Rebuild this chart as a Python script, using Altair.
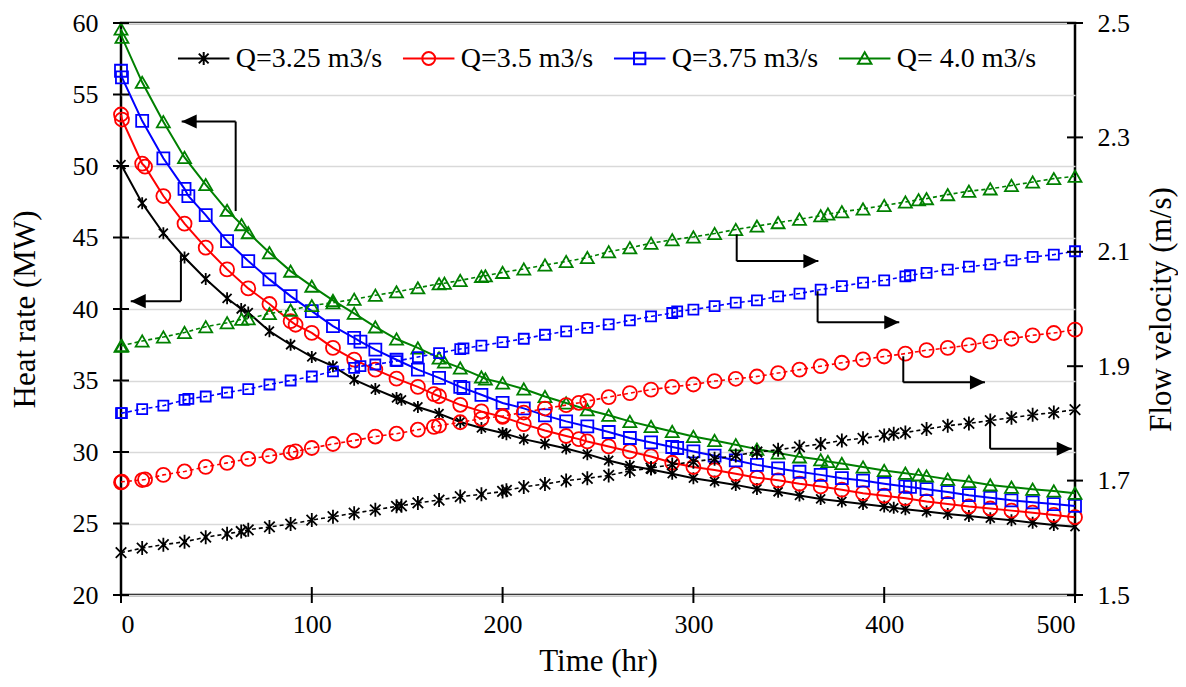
import altair as alt
import pandas as pd

Q_LABELS = ["Q=3.25 m3/s", "Q=3.5 m3/s", "Q=3.75 m3/s", "Q= 4.0 m3/s"]
COLORS = ["#000000", "#ff0000", "#0000ff", "#008000"]

# ---- Q = 3.25 m3/s ----
T_325 = [0, 11.1, 22.2, 33.3, 44.4, 55.6, 63.0, 66.7, 77.8, 88.9,
         100, 111.1, 122.2, 133.3, 144.4, 147.0, 155.6, 166.7, 177.8, 188.9,
         200, 202.0, 211.1, 222.2, 233.3, 244.4, 255.6, 266.7, 277.8, 288.9,
         300, 311.1, 322.2, 333.3, 344.4, 355.6, 366.7, 377.8, 388.9, 400,
         405.0, 411.1, 422.2, 433.3, 444.4, 455.6, 466.7, 477.8, 488.9, 500]
HR_325 = [50.1, 47.4, 45.3, 43.6, 42.1, 40.75, 40.0, 39.75, 38.45, 37.5,
          36.65, 36.0, 35.06, 34.4, 33.78, 33.65, 33.15, 32.68, 32.1, 31.68,
          31.33, 31.25, 30.9, 30.58, 30.25, 29.85, 29.41, 29.04, 28.78, 28.48,
          28.17, 27.94, 27.7, 27.42, 27.22, 26.96, 26.72, 26.54, 26.37, 26.19,
          26.1, 26.0, 25.84, 25.67, 25.53, 25.37, 25.23, 25.06, 24.9, 24.78]
V_325 = [1.574, 1.582, 1.588, 1.593, 1.601, 1.607, 1.611, 1.614, 1.619, 1.624,
         1.631, 1.637, 1.643, 1.649, 1.655, 1.656, 1.661, 1.666, 1.672, 1.676,
         1.681, 1.683, 1.689, 1.694, 1.700, 1.704, 1.709, 1.717, 1.722, 1.728,
         1.733, 1.738, 1.744, 1.750, 1.754, 1.759, 1.764, 1.770, 1.774, 1.779,
         1.782, 1.784, 1.790, 1.796, 1.800, 1.805, 1.810, 1.815, 1.819, 1.824]

# ---- Q = 3.5 m3/s ----
T_35 = [0, 0.5, 11.1, 12.6, 22.2, 33.3, 44.4, 55.6, 66.7, 77.8,
        88.9, 91.5, 100, 111.1, 122.2, 133.3, 144.4, 155.6, 164.0, 166.7,
        177.8, 188.9, 200, 211.1, 222.2, 233.3, 240.0, 244.4, 255.6, 266.7,
        277.8, 288.9, 300, 311.1, 322.2, 333.3, 344.4, 355.6, 366.7, 377.8,
        388.9, 400, 411.1, 422.2, 433.3, 444.4, 455.6, 466.7, 477.8, 488.9,
        500]
HR_35 = [53.6, 53.25, 50.17, 49.95, 47.9, 45.97, 44.29, 42.77, 41.44, 40.35,
         39.15, 38.9, 38.33, 37.28, 36.46, 35.76, 35.13, 34.55, 34.05, 33.9,
         33.3, 32.84, 32.45, 31.95, 31.5, 31.12, 30.9, 30.74, 30.39, 30.04,
         29.69, 29.25, 28.95, 28.74, 28.48, 28.2, 28.02, 27.78, 27.59, 27.36,
         27.12, 26.94, 26.77, 26.54, 26.37, 26.19, 26.05, 25.9, 25.76, 25.6,
         25.44]
V_35 = [1.697, 1.698, 1.701, 1.702, 1.710, 1.716, 1.724, 1.731, 1.738, 1.743,
        1.749, 1.751, 1.757, 1.764, 1.770, 1.777, 1.782, 1.789, 1.794, 1.796,
        1.802, 1.808, 1.813, 1.819, 1.826, 1.832, 1.836, 1.839, 1.846, 1.853,
        1.859, 1.864, 1.868, 1.874, 1.878, 1.882, 1.888, 1.894, 1.900, 1.906,
        1.912, 1.917, 1.922, 1.928, 1.932, 1.937, 1.943, 1.948, 1.954, 1.958,
        1.964]

# ---- Q = 3.75 m3/s ----
T_375 = [0, 0.5, 11.1, 22.2, 33.3, 35.3, 44.4, 55.6, 66.7, 77.8,
         88.9, 100, 111.1, 122.2, 125.5, 133.3, 144.4, 155.6, 166.7, 177.8,
         179.5, 188.9, 200, 211.1, 222.2, 233.3, 244.4, 255.6, 266.7, 277.8,
         288.9, 291.5, 300, 311.1, 322.2, 333.3, 344.4, 355.6, 366.7, 377.8,
         388.9, 400, 411.1, 413.5, 422.2, 433.3, 444.4, 455.6, 466.7, 477.8,
         488.9, 500]
HR_375 = [56.66, 56.2, 53.16, 50.54, 48.4, 47.9, 46.57, 44.75, 43.35, 42.07,
          40.9, 39.85, 38.8, 37.98, 37.72, 37.16, 36.45, 35.76, 35.18, 34.55,
          34.47, 34.0, 33.43, 33.05, 32.56, 32.14, 31.79, 31.4, 30.98, 30.67,
          30.35, 30.28, 30.04, 29.74, 29.41, 29.1, 28.85, 28.62, 28.4, 28.17,
          28.0, 27.78, 27.59, 27.56, 27.4, 27.2, 26.98, 26.8, 26.62, 26.48,
          26.36, 26.23]
V_375 = [1.818, 1.818, 1.825, 1.831, 1.841, 1.843, 1.847, 1.854, 1.860, 1.868,
         1.875, 1.882, 1.891, 1.897, 1.900, 1.903, 1.909, 1.916, 1.923, 1.930,
         1.931, 1.936, 1.942, 1.948, 1.955, 1.961, 1.967, 1.973, 1.980, 1.987,
         1.993, 1.996, 1.999, 2.005, 2.011, 2.015, 2.022, 2.027, 2.034, 2.040,
         2.046, 2.050, 2.057, 2.059, 2.063, 2.069, 2.074, 2.078, 2.085, 2.091,
         2.095, 2.101]

# ---- Q = 4.0 m3/s ----
T_40 = [0, 0.5, 11.1, 22.2, 33.3, 44.4, 55.6, 63.2, 66.7, 77.8,
        88.9, 100, 111.1, 122.2, 133.3, 144.4, 155.6, 166.7, 169.5, 177.8,
        188.9, 191.0, 200, 211.1, 222.2, 233.3, 244.4, 255.6, 266.7, 277.8,
        288.9, 300, 311.1, 322.2, 333.3, 344.4, 355.6, 366.7, 370.5, 377.8,
        388.9, 400, 411.1, 418.0, 422.2, 433.3, 444.4, 455.6, 466.7, 477.8,
        488.9, 500]
HR_40 = [59.58, 59.0, 55.85, 53.1, 50.6, 48.7, 46.9, 45.9, 45.34, 43.94,
         42.65, 41.6, 40.6, 39.7, 38.75, 37.9, 37.28, 36.58, 36.3, 35.88,
         35.25, 35.11, 34.83, 34.41, 33.88, 33.43, 32.96, 32.57, 32.14, 31.79,
         31.44, 31.09, 30.81, 30.51, 30.2, 29.93, 29.66, 29.46, 29.34, 29.2,
         28.95, 28.71, 28.52, 28.4, 28.33, 28.1, 27.94, 27.7, 27.54, 27.4,
         27.28, 27.12]
V_40 = [1.935, 1.936, 1.944, 1.951, 1.959, 1.969, 1.976, 1.982, 1.983, 1.992,
        1.998, 2.006, 2.011, 2.017, 2.024, 2.030, 2.037, 2.044, 2.045, 2.050,
        2.057, 2.058, 2.064, 2.070, 2.077, 2.083, 2.090, 2.100, 2.107, 2.115,
        2.121, 2.126, 2.132, 2.139, 2.145, 2.151, 2.157, 2.163, 2.166, 2.170,
        2.175, 2.181, 2.187, 2.191, 2.193, 2.200, 2.206, 2.210, 2.216, 2.222,
        2.228, 2.232]

X_TICKS = [0, 100, 200, 300, 400, 500]
HR_TICKS = [20, 25, 30, 35, 40, 45, 50, 55, 60]
V_TICKS = [1.5, 1.7, 1.9, 2.1, 2.3, 2.5]

# arrow annotations (data units): elbow time, start value, elbow value, tip time
ARR_L_T = [60.1, 31.4]
ARR_L_FROM = [46.85, 43.77]
ARR_L_TO = [53.11, 40.55]
ARR_L_TIP = [31.8, 5.1]
ARR_R_T = [322.7, 365.1, 410.0, 455.5]
ARR_R_FROM = [2.1305, 2.0312, 1.9173, 1.8035]
ARR_R_TO = [2.0837, 1.9769, 1.8718, 1.7557]
ARR_R_TIP = [365.5, 407.9, 452.8, 498.3]

# ---------------------------------------------------------------
FONT = "Liberation Serif, Times New Roman, Times, serif"
ASTER = "M0,-1L0,1M-0.75,-0.75L0.75,0.75M-0.75,0.75L0.75,-0.75"
HEAT_SHAPES = [ASTER, "circle", "square", "triangle-up"]
HEAT_SIZES = [144, 196, 144, 169]
VEL_SHAPES = [ASTER, "circle", "square", "triangle-up"]
VEL_SIZES = [196, 196, 100, 169]
LEG_SHAPES = [
    "M-1,0L1,0M0,-0.25L0,0.25M-0.19,-0.19L0.19,0.19M-0.19,0.19L0.19,-0.19",
    "M-1,0L1,0M0.25,0A0.25,0.25,0,1,1,-0.25,0A0.25,0.25,0,1,1,0.25,0",
    "M-1,0L1,0M-0.22,-0.22L0.22,-0.22L0.22,0.22L-0.22,0.22Z",
    "M-1,0L1,0M0,-0.24L0.26,0.2L-0.26,0.2Z",
]
HEAD_L = "M0,0L1,-0.47L1,0.47Z"
HEAD_R = "M0,0L-1,-0.47L-1,0.47Z"

frames = []
for lab, T, Hh, V in zip(Q_LABELS, [T_325, T_35, T_375, T_40],
                         [HR_325, HR_35, HR_375, HR_40], [V_325, V_35, V_375, V_40]):
    frames.append(pd.DataFrame({"Q": lab, "t": T, "heat": Hh, "vel": V}))
df = pd.concat(frames, ignore_index=True)

W, H = 954, 572
xs = alt.Scale(domain=[0, 500], nice=False, zero=False)
ls = alt.Scale(domain=[20, 60], nice=False, zero=False)
rs = alt.Scale(domain=[1.5, 2.5], nice=False, zero=False)

x_axis = alt.Axis(values=X_TICKS, title="Time (hr)", grid=False, ticks=False, tickSize=0,
                  domain=False, labelPadding=16, titlePadding=9,
                  labelFontSize=26, titleFontSize=31)
l_axis = alt.Axis(values=HR_TICKS, title="Heat rate (MW)", orient="left", grid=True,
                  gridColor="#d9d9d9", gridWidth=1.5, ticks=False, tickSize=0,
                  domain=False, labelPadding=23, titlePadding=31,
                  labelFontSize=26, titleFontSize=31)
r_axis = alt.Axis(values=V_TICKS, format=".1f", title="Flow velocity (m/s)",
                  orient="right", grid=False, ticks=False, tickSize=0, domain=False,
                  labelPadding=22, titlePadding=17, titleAngle=270,
                  titleBaseline="top", labelFontSize=26, titleFontSize=31)


def XF(f):
    return alt.X(f + ":Q", scale=xs, axis=x_axis)


def YLF(f):
    return alt.Y(f + ":Q", scale=ls, axis=l_axis)


def YRF(f):
    return alt.Y(f + ":Q", scale=rs, axis=r_axis)


left_layers = []
right_layers = []
for i, lab in enumerate(Q_LABELS):
    base = alt.Chart(df).transform_filter(alt.datum.Q == lab)
    left_layers.append(base.mark_line(color=COLORS[i], strokeWidth=2).encode(
        x=XF("t"), y=YLF("heat")))
    left_layers.append(base.mark_point(shape=HEAT_SHAPES[i], size=HEAT_SIZES[i], color=COLORS[i],
                                       filled=False, strokeWidth=1.8, opacity=1).encode(
        x=XF("t"), y=YLF("heat")))
    right_layers.append(base.mark_line(color=COLORS[i], strokeWidth=1.6, strokeDash=[4, 3]).encode(
        x=XF("t"), y=YRF("vel")))
    right_layers.append(base.mark_point(shape=VEL_SHAPES[i], size=VEL_SIZES[i], color=COLORS[i],
                                        filled=False, strokeWidth=1.8, opacity=1).encode(
        x=XF("t"), y=YRF("vel")))

# legend (no marks drawn, only the legend)
leg = alt.Legend(orient="none", legendX=55.7, legendY=8.5, direction="horizontal", columns=4,
                 columnPadding=16, title=None, labelFont=FONT, labelFontSize=28,
                 labelColor="black", symbolSize=2652, symbolStrokeWidth=2, labelOffset=5,
                 padding=0, symbolOpacity=1)
legend_layer = alt.Chart(df).transform_filter("datum.t < 0").mark_point(
    filled=False, strokeWidth=2, opacity=1).encode(
    x=XF("t"), y=YLF("heat"),
    color=alt.Color("Q:N", scale=alt.Scale(domain=Q_LABELS, range=COLORS), legend=leg),
    shape=alt.Shape("Q:N", scale=alt.Scale(domain=Q_LABELS, range=LEG_SHAPES), legend=leg),
)
left_layers.append(legend_layer)

# cross tick marks
left_layers.append(alt.Chart(pd.DataFrame({"heat": HR_TICKS})).mark_rule(
    color="black", strokeWidth=2).encode(y=YLF("heat"), x=alt.value(-8), x2=alt.value(8)))
left_layers.append(alt.Chart(pd.DataFrame({"t": X_TICKS})).mark_rule(
    color="black", strokeWidth=2).encode(x=XF("t"), y=alt.value(H - 8), y2=alt.value(H + 8)))
right_layers.append(alt.Chart(pd.DataFrame({"vel": V_TICKS})).mark_rule(
    color="black", strokeWidth=2).encode(y=YRF("vel"), x=alt.value(W - 8), x2=alt.value(W + 8)))

# arrows
al = pd.DataFrame({"t": ARR_L_T, "heat": ARR_L_FROM, "heat2": ARR_L_TO, "tip": ARR_L_TIP})
left_layers.append(alt.Chart(al).mark_rule(color="black", strokeWidth=2).encode(
    x=XF("t"), y=YLF("heat"), y2="heat2:Q"))
left_layers.append(alt.Chart(al).mark_rule(color="black", strokeWidth=2).encode(
    x=XF("t"), x2="tip:Q", y=YLF("heat2")))
left_layers.append(alt.Chart(al).mark_point(shape=HEAD_L, size=900, filled=True, color="black",
                                            opacity=1, strokeWidth=0).encode(
    x=XF("tip"), y=YLF("heat2")))

ar = pd.DataFrame({"t": ARR_R_T, "vel": ARR_R_FROM, "vel2": ARR_R_TO, "tip": ARR_R_TIP})
right_layers.append(alt.Chart(ar).mark_rule(color="black", strokeWidth=2).encode(
    x=XF("t"), y=YRF("vel"), y2="vel2:Q"))
right_layers.append(alt.Chart(ar).mark_rule(color="black", strokeWidth=2).encode(
    x=XF("t"), x2="tip:Q", y=YRF("vel2")))
right_layers.append(alt.Chart(ar).mark_point(shape=HEAD_R, size=900, filled=True, color="black",
                                             opacity=1, strokeWidth=0).encode(
    x=XF("tip"), y=YRF("vel2")))

left = alt.layer(*left_layers)
right = alt.layer(*right_layers)

chart = alt.layer(left, right).resolve_scale(y="independent").properties(
    width=W, height=H,
    autosize=alt.AutoSizeParams(type="none"),
    padding={"left": 113, "top": 15, "right": 103, "bottom": 84},
    background="white",
).configure_view(stroke="black", strokeWidth=2.5).configure_axis(
    labelFont=FONT, titleFont=FONT, labelColor="black", titleColor="black",
    titleFontWeight="normal",
).configure_legend(labelFont=FONT)

chart.save("out.html", embed_options={"renderer": "svg", "actions": False})
